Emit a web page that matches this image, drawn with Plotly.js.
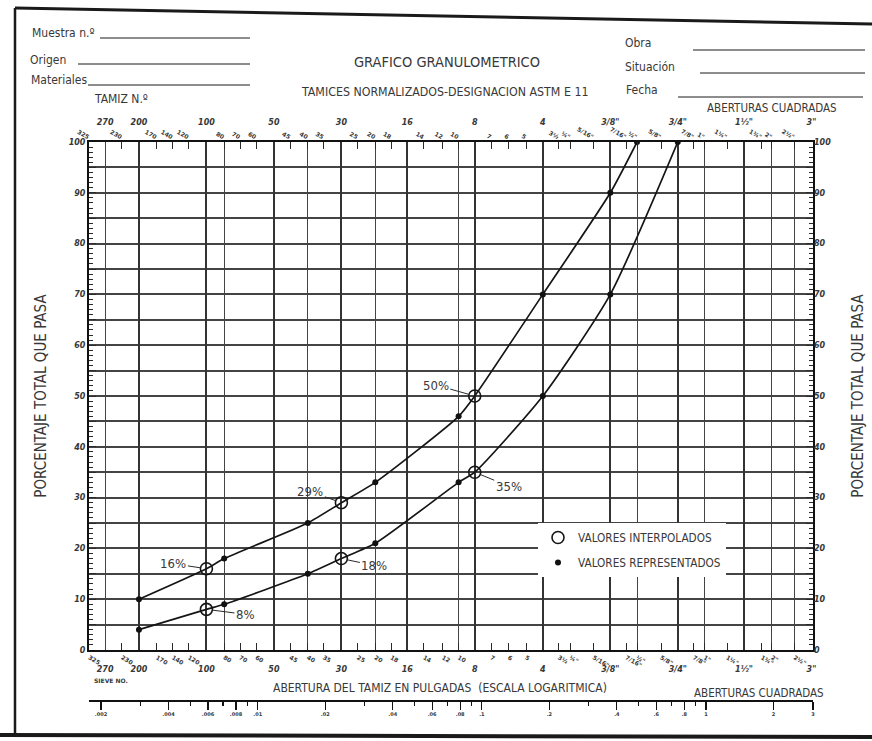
<!DOCTYPE html>
<html><head><meta charset="utf-8">
<script src="https://cdn.plot.ly/plotly-3.0.1.min.js"></script>
<style>html,body{margin:0;padding:0;background:#fff}#chart{width:872px;height:741px}</style>
</head><body><div id="chart"></div>
<script>
// ---------------- DATA ----------------
// Upper curve (percent passing vs sieve opening in mm)
const upperSieveMM = [0.075, 0.15, 0.18, 0.425, 0.6, 0.85, 2.0, 2.36, 4.75, 9.5, 12.5];
const upperPct     = [10,    16,   18,   25,    29,  33,   46,  50,   70,   90,  100];
const upperKind    = ['R',  'I',  'R',  'R',   'I', 'R',  'R', 'I',  'R',  'R', 'R'];
// Lower curve
const lowerSieveMM = [0.075, 0.15, 0.18, 0.425, 0.6, 0.85, 2.0, 2.36, 4.75, 9.5, 19.0];
const lowerPct     = [4,     8,    9,    15,    18,  21,   33,  35,   50,   70,  100];
const lowerKind    = ['R',  'I',  'R',  'R',   'I', 'R',  'R', 'I',  'R',  'R', 'R'];

// Sieve tick rows (ASTM E 11)
const sieveSmallMM = [0.045,0.063,0.090,0.106,0.125,0.18,0.212,0.25,0.355,0.425,0.5,0.71,0.85,1.0,1.4,1.7,2.0,2.8,3.35,4.0,5.6,6.3,8.0,11.2,12.5,16.0,22.4,25.0,31.5,45.0,50.0,63.0];
const sieveSmallLabels = ['325','230','170','140','120','80','70','60','45','40','35','25','20','18','14','12','10','7','6','5','3½','¼"','5/16"','7/16"','½"','5/8"','7/8"','1"','1¼"','1¾"','2"','2½"'];
const sieveMainMM = [0.053,0.075,0.15,0.3,0.6,1.18,2.36,4.75,9.5,19.0,37.5,75.0];
const sieveMainLabels = ['270','200','100','50','30','16','8','4','3/8"','3/4"','1½"','3"'];
const gridMajorMM = [0.075,0.15,0.3,0.6,1.18,2.36,4.75,9.5,19.0,37.5];
const gridMinorMM = [0.053,0.18,0.425,0.85,2.0,12.5,25.0,50.0,63.0];
// Inch ruler
const inchTickVals = [0.002,0.004,0.006,0.008,0.01,0.02,0.04,0.06,0.08,0.1,0.2,0.4,0.6,0.8,1,2,3];
const inchTickLabels = ['.002','.004','.006','.008','.01','.02','.04','.06','.08','.1','.2','.4','.6','.8','1','2','3'];
const inchMinorVals = [0.003,0.005,0.007,0.009,0.03,0.05,0.07,0.09,0.3,0.5,0.7,0.9];
// Percent axis
const pctTicks = [0,5,10,15,20,25,30,35,40,45,50,55,60,65,70,75,80,85,90,95,100];
const pctMinor = Array.from({length:101}, (v,i)=>i);

// ---------------- STYLE / GEOMETRY ----------------
const FONT = "'Liberation Sans Narrow','DejaVu Sans Condensed',sans-serif";
const TFONT = "'DejaVu Sans','Liberation Sans',sans-serif";
const INK = '#2a2a2a', TXT = '#383838';
const L = 89, R = 813, T = 142, PB = 650, BB = 711;
const px = x => (x - L) / (R - L);
const py = y => (BB - y) / (BB - T);
const labelOffsetsUpper = [[-33,-5],[-31,-11],[-39,-11]];
const labelOffsetsLower = [[39,5],[33,7],[34,14]];

const xRange = [Math.log10(0.0449), Math.log10(76.2)];
const inchRange = [xRange[0] - Math.log10(25.4), xRange[1] - Math.log10(25.4)];

function pick(arr, kinds, k){ return arr.filter((v,i)=>kinds[i]===k); }

const interpX = pick(upperSieveMM, upperKind, 'I').concat(pick(lowerSieveMM, lowerKind, 'I'));
const interpY = pick(upperPct, upperKind, 'I').concat(pick(lowerPct, lowerKind, 'I'));
const repX = pick(upperSieveMM, upperKind, 'R').concat(pick(lowerSieveMM, lowerKind, 'R'));
const repY = pick(upperPct, upperKind, 'R').concat(pick(lowerPct, lowerKind, 'R'));

const lineStyle = {color:'#151515', width:1.7, shape:'spline', smoothing:0.6};
const data = [
  {x:upperSieveMM, y:upperPct, mode:'lines', line:lineStyle, showlegend:false, hoverinfo:'skip'},
  {x:lowerSieveMM, y:lowerPct, mode:'lines', line:lineStyle, showlegend:false, hoverinfo:'skip'},
  {x:interpX, y:interpY, mode:'markers', name:'VALORES INTERPOLADOS', legendgroup:'a',
   marker:{symbol:'circle-open', size:12, color:'#151515', line:{width:1.6, color:'#151515'}}},
  {x:repX, y:repY, mode:'markers', name:'VALORES REPRESENTADOS', legendgroup:'b',
   marker:{symbol:'circle', size:6, color:'#111'}}
];
['x2','x3','x4','x5','x6','x7'].forEach(a=>data.push({x:[], y:[], xaxis:a, yaxis:'y', showlegend:false, hoverinfo:'skip', mode:'markers'}));
['y2','y3','y4'].forEach(a=>data.push({x:[], y:[], xaxis:'x', yaxis:a, showlegend:false, hoverinfo:'skip', mode:'markers'}));

const smallFont = {family:TFONT, size:6, color:TXT, weight:'bold'};
const italFont = {family:TFONT, size:8, color:TXT, weight:'bold', style:'italic'};
const baseX = {type:'log', range:xRange, fixedrange:true, zeroline:false, showgrid:false, tickmode:'array', automargin:false};

const annotations = [];
function ann(text, x, y, size, xanchor, extra){
  annotations.push(Object.assign({text:text, xref:'paper', yref:'paper', x:px(x), y:py(y), xanchor:xanchor||'left', yanchor:'middle',
    showarrow:false, font:{family:FONT, size:size, color:TXT}}, extra||{}));
}
ann('Muestra n.º', 30, 33, 12);
ann('Origen', 28, 60, 12);
ann('Materiales', 29, 80, 12);
ann('TAMIZ N.º', 92, 99, 12);
ann('GRAFICO GRANULOMETRICO', 447, 62, 14.5, 'center');
ann('TAMICES NORMALIZADOS-DESIGNACION ASTM E 11', 444, 92, 12.3, 'center');
ann('Obra', 623, 43, 12);
ann('Situación', 623, 67, 12);
ann('Fecha', 624, 90, 12);
ann('ABERTURAS CUADRADAS', 772, 108, 11.5, 'center');
ann('SIEVE NO.', 92, 680, 7, 'left', {font:{family:TFONT, size:6, color:TXT, weight:'bold'}});
ann('ABERTURA DEL TAMIZ EN PULGADAS  (ESCALA LOGARITMICA)', 440, 688, 12, 'center');
ann('ABERTURAS CUADRADAS', 759, 693, 11.5, 'center');

function pctLabels(xs, ys, kinds, offs){
  let j = 0;
  xs.forEach((x,i)=>{
    if(kinds[i] !== 'I') return;
    const o = offs[j++];
    annotations.push({text: ys[i] + '%', xref:'x', yref:'y', x:Math.log10(x), y:ys[i],
      showarrow:true, arrowhead:0, arrowwidth:1, arrowcolor:INK, ax:o[0], ay:o[1], standoff:6,
      font:{family:FONT, size:13, color:TXT}});
  });
}
pctLabels(upperSieveMM, upperPct, upperKind, labelOffsetsUpper);
pctLabels(lowerSieveMM, lowerPct, lowerKind, labelOffsetsLower);

const shapes = [];
function seg(x0,y0,x1,y1,w){
  shapes.push({type:'line', xref:'paper', yref:'paper', x0:px(x0), y0:py(y0), x1:px(x1), y1:py(y1), line:{color:'#1a1a1a', width:w}});
}
seg(100,38,250,38,1); seg(78,64,250,64,1); seg(88,85,250,85,1);
seg(693,50,865,50,1); seg(700,73,865,73,1); seg(678,97,863,97,1);
seg(15,8,872,24,3); seg(15,8,15,735,2.5); seg(0,735,872,737,4);

const yCommon = {range:[0,100], fixedrange:true, zeroline:false, tickmode:'array', tickvals:pctTicks,
  ticktext:pctTicks.map(v=>v%10===0?String(v):''), ticks:'inside', ticklen:7, tickcolor:INK,
  tickfont:italFont, automargin:false};
const yMinor = {range:[0,100], fixedrange:true, zeroline:false, tickmode:'array', tickvals:pctMinor,
  showticklabels:false, ticks:'inside', ticklen:4, tickwidth:1, tickcolor:INK, showgrid:false, automargin:false};

const layout = {
  width:872, height:741, paper_bgcolor:'#fff', plot_bgcolor:'rgba(0,0,0,0)',
  margin:{l:L, r:872-R, t:T, b:741-BB, pad:0},
  showlegend:true,
  legend:{x:px(538), y:py(523), xanchor:'left', yanchor:'top', bgcolor:'#fff', borderwidth:0,
    font:{family:FONT, size:11.7, color:TXT}, traceorder:'grouped', tracegroupgap:6, itemwidth:30},
  xaxis: Object.assign({}, baseX, {anchor:'y', side:'bottom', tickvals:sieveSmallMM, ticktext:sieveSmallLabels,
    ticks:'inside', ticklen:7, tickcolor:INK, tickfont:smallFont, showline:true, linewidth:2, linecolor:'#111', mirror:true}),
  xaxis2: Object.assign({}, baseX, {overlaying:'x', anchor:'y', side:'bottom', tickvals:sieveMainMM, ticktext:sieveMainLabels,
    ticks:'', ticklabelstandoff:13, tickfont:italFont}),
  xaxis3: Object.assign({}, baseX, {overlaying:'x', anchor:'y', side:'top', tickvals:sieveSmallMM, ticktext:sieveSmallLabels,
    ticks:'inside', ticklen:7, tickcolor:INK, tickfont:smallFont}),
  xaxis4: Object.assign({}, baseX, {overlaying:'x', anchor:'y', side:'top', tickvals:sieveMainMM, ticktext:sieveMainLabels,
    ticks:'', ticklabelstandoff:14, tickfont:italFont}),
  xaxis5: Object.assign({}, baseX, {overlaying:'x', anchor:'y', tickvals:gridMajorMM, showticklabels:false, ticks:'',
    showgrid:true, gridcolor:'#333', gridwidth:2}),
  xaxis6: Object.assign({}, baseX, {overlaying:'x', anchor:'y', tickvals:gridMinorMM, showticklabels:false, ticks:'',
    showgrid:true, gridcolor:'#444', gridwidth:1}),
  xaxis7: {type:'log', range:inchRange, fixedrange:true, overlaying:'x', anchor:'free', position:py(700), side:'bottom',
    showline:true, linewidth:1.5, linecolor:'#111', showgrid:false, zeroline:false, automargin:false,
    tickmode:'array', tickvals:inchTickVals, ticktext:inchTickLabels, ticks:'outside', ticklen:8, tickwidth:1.2, tickcolor:'#111',
    minor:{tickmode:'array', tickvals:inchMinorVals, ticks:'outside', ticklen:4, tickcolor:'#111'},
    tickfont:{family:TFONT, size:5, color:TXT, weight:'bold'}},
  yaxis: Object.assign({}, yCommon, {domain:[py(PB),1], anchor:'x', side:'left', showgrid:true, gridcolor:'#444', gridwidth:2,
    showline:true, linewidth:2, linecolor:'#111', mirror:true,
    title:{text:'PORCENTAJE TOTAL QUE PASA', font:{family:FONT, size:15, color:TXT}, standoff:18}}),
  yaxis2: Object.assign({}, yCommon, {overlaying:'y', anchor:'x', side:'right', showgrid:false,
    title:{text:'PORCENTAJE TOTAL QUE PASA', font:{family:FONT, size:15, color:TXT}, standoff:22}}),
  yaxis3: Object.assign({}, yMinor, {overlaying:'y', anchor:'x', side:'left'}),
  yaxis4: Object.assign({}, yMinor, {overlaying:'y', anchor:'x', side:'right'}),
  annotations: annotations,
  shapes: shapes
};

Plotly.newPlot('chart', data, layout, {displayModeBar:false, staticPlot:true});
</script></body></html>
